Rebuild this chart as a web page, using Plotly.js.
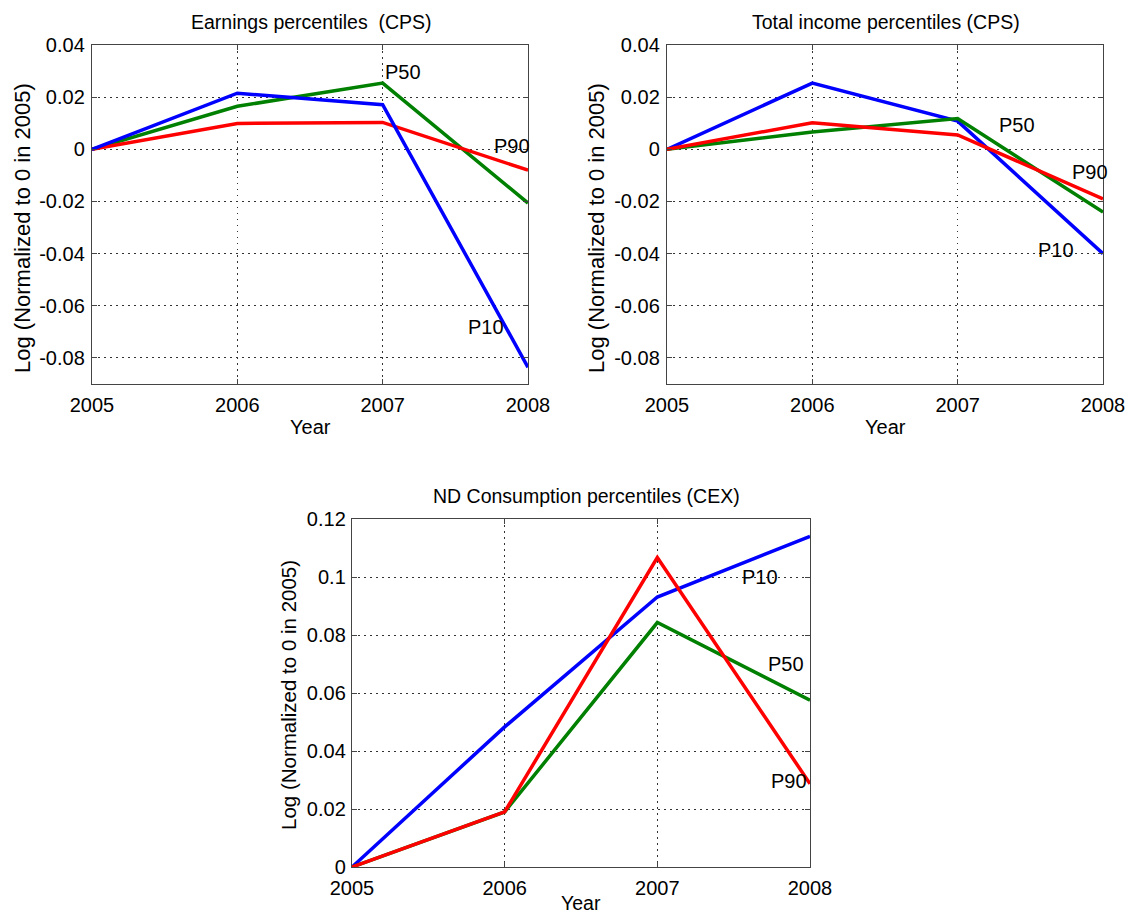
<!DOCTYPE html>
<html>
<head>
<meta charset="utf-8">
<script src="https://cdn.plot.ly/plotly-3.0.1.min.js"></script>
<style>html,body{margin:0;padding:0;background:#fff;}#chart{width:1130px;height:916px;}</style>
</head>
<body>
<div id="chart"></div>
<script>
// ---- Data ----
var years = [2005, 2006, 2007, 2008];
var yearLabels = ["2005", "2006", "2007", "2008"];

// Earnings percentiles (CPS)
var earnP10 = [0, 0.0215, 0.0171, -0.0836];
var earnP50 = [0, 0.0165, 0.0254, -0.0206];
var earnP90 = [0, 0.0099, 0.0103, -0.0080];

// Total income percentiles (CPS)
var incP10 = [0, 0.0254, 0.0108, -0.0400];
var incP50 = [0, 0.0066, 0.0118, -0.0241];
var incP90 = [0, 0.0102, 0.0055, -0.0190];

// ND Consumption percentiles (CEX)
var conP10 = [0, 0.0483, 0.0931, 0.1140];
var conP50 = [0, 0.0190, 0.0843, 0.0575];
var conP90 = [0, 0.0190, 0.1067, 0.0287];

var topTickVals = [-0.08, -0.06, -0.04, -0.02, 0, 0.02, 0.04];
var topTickText = ["-0.08", "-0.06", "-0.04", "-0.02", "0", "0.02", "0.04"];
var botTickVals = [0, 0.02, 0.04, 0.06, 0.08, 0.1, 0.12];
var botTickText = ["0", "0.02", "0.04", "0.06", "0.08", "0.1", "0.12"];

var titles = ["Earnings percentiles&nbsp; (CPS)", "Total income percentiles (CPS)", "ND Consumption percentiles (CEX)"];
var yTitle = "Log (Normalized to 0 in 2005)";
var xTitle = "Year";

// label positions (data coords) for P10/P50/P90 text
var labelsEarn = [["P10", 2007.71, -0.0683], ["P50", 2007.14, 0.0297], ["P90", 2007.89, 0.0014]];
var labelsInc  = [["P10", 2007.68, -0.0388], ["P50", 2007.41, 0.0093], ["P90", 2007.91, -0.0088]];
var labelsCon  = [["P10", 2007.67, 0.100], ["P50", 2007.84, 0.070], ["P90", 2007.86, 0.0297]];

// ---- Styling ----
var W = 1130, H = 916;
function px(x){ return x / W; }
function py(y){ return 1 - y / H; }
var FONT = "Liberation Sans, Arial, sans-serif";
var BLUE = "rgb(0,0,255)", GREEN = "rgb(0,128,0)", RED = "rgb(255,0,0)";

function line(x, y, c, xa, ya){
  return {x: x, y: y, type: "scatter", mode: "lines", xaxis: xa, yaxis: ya,
          line: {color: c, width: 3.5}, hoverinfo: "skip", showlegend: false, cliponaxis: true};
}

var traces = [
  line(years, earnP50, GREEN, "x", "y"),
  line(years, earnP90, RED, "x", "y"),
  line(years, earnP10, BLUE, "x", "y"),
  line(years, incP10, BLUE, "x2", "y2"),
  line(years, incP50, GREEN, "x2", "y2"),
  line(years, incP90, RED, "x2", "y2"),
  line(years, conP10, BLUE, "x3", "y3"),
  line(years, conP50, GREEN, "x3", "y3"),
  line(years, conP90, RED, "x3", "y3")
];

var GRID = {showgrid: true, gridcolor: "#333", griddash: "1.5px,4.5px", gridwidth: 1};

function xaxis(dom, anchor, standoff){
  return Object.assign({domain: dom, anchor: anchor, range: [2005, 2008], tickvals: years, ticktext: yearLabels,
          showline: true, linecolor: "#444", linewidth: 1.2, mirror: "ticks",
          ticks: "inside", ticklen: 5, tickcolor: "#444", ticklabelstandoff: standoff,
          zeroline: false, tickfont: {family: FONT, size: 20, color: "#000"}, fixedrange: true}, GRID);
}
function yaxis(dom, anchor, rng, tv, tt, standoff){
  return Object.assign({domain: dom, anchor: anchor, range: rng, tickvals: tv, ticktext: tt,
          showline: true, linecolor: "#444", linewidth: 1.2, mirror: "ticks",
          ticks: "inside", ticklen: 5, tickcolor: "#444", ticklabelstandoff: standoff,
          zeroline: false, tickfont: {family: FONT, size: 20, color: "#000"}, fixedrange: true}, GRID);
}

var annotations = [];
function addTitle(text, x, y, size){
  annotations.push({text: text, xref: "paper", yref: "paper", x: px(x), y: py(y), showarrow: false,
                    xanchor: "center", yanchor: "middle", font: {family: FONT, size: size, color: "#000"}});
}
function addYTitle(x, y, size){
  annotations.push({text: yTitle, xref: "paper", yref: "paper", x: px(x), y: py(y), showarrow: false,
                    textangle: -90, xanchor: "center", yanchor: "middle", font: {family: FONT, size: size, color: "#000"}});
}
function addLabels(list, xr, yr){
  list.forEach(function(l){
    annotations.push({text: l[0], xref: xr, yref: yr, x: l[1], y: l[2], showarrow: false,
                      xanchor: "center", yanchor: "middle", font: {family: FONT, size: 20, color: "#000"}});
  });
}

addTitle(titles[0], 311, 22, 19.5);
addTitle(titles[1], 886, 22, 19.5);
addTitle(titles[2], 586, 496, 19.5);
addTitle(xTitle, 310, 427, 20);
addTitle(xTitle, 885, 427, 20);
addTitle(xTitle, 581, 903, 19.5);
addYTitle(22, 228, 22);
addYTitle(596, 228, 22);
addYTitle(288, 695, 20.5);
addLabels(labelsEarn, "x", "y");
addLabels(labelsInc, "x2", "y2");
addLabels(labelsCon, "x3", "y3");

var layout = {
  width: W, height: H,
  margin: {l: 0, r: 0, t: 0, b: 0},
  paper_bgcolor: "#fff", plot_bgcolor: "#fff",
  showlegend: false,
  font: {family: FONT, color: "#000"},
  xaxis: xaxis([px(92), px(528)], "y", 3),
  yaxis: yaxis([py(384), py(45)], "x", [-0.09, 0.04], topTickVals, topTickText, 2),
  xaxis2: xaxis([px(667), px(1103)], "y2", 3),
  yaxis2: yaxis([py(384), py(45)], "x2", [-0.09, 0.04], topTickVals, topTickText, 2),
  xaxis3: xaxis([px(352), px(810)], "y3", 3),
  yaxis3: yaxis([py(867), py(519)], "x3", [0, 0.12], botTickVals, botTickText, 1),
  annotations: annotations
};

Plotly.newPlot("chart", traces, layout, {displayModeBar: false, staticPlot: true});
</script>
</body>
</html>
